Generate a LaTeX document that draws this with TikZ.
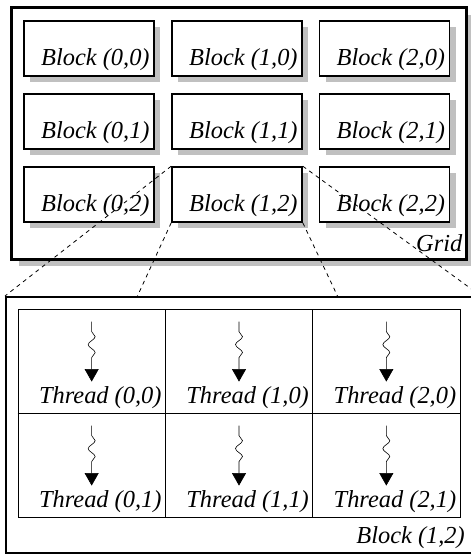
\documentclass[tikz,border=0pt]{standalone}
\usepackage{fontspec}
\setmainfont{Liberation Serif}
\usetikzlibrary{arrows.meta,shadows,decorations.pathmorphing}
\definecolor{shadowgray}{HTML}{C0C0C0}
\begin{document}
\begin{tikzpicture}[x=1bp,y=-1bp,
  lab/.style={font=\fontsize{24.5}{28}\selectfont\itshape, inner sep=0pt, anchor=base east},
  shadowed/.style={drop shadow={shadow xshift=#1, shadow yshift=-#1, fill=shadowgray, opacity=1}},
  gridframe/.style={draw, line width=3bp, fill=white, inner sep=0pt,
    minimum width=454bp, minimum height=251bp, shadowed=7bp},
  blockbox/.style={draw, line width=1.6bp, fill=white, inner sep=0pt,
    minimum width=130bp, minimum height=55bp, shadowed=6bp},
  bigframe/.style={draw, line width=2bp, inner sep=0pt,
    minimum width=474bp, minimum height=256bp},
  cell/.style={draw, line width=0.8bp, inner sep=0pt,
    minimum width=147.33bp, minimum height=104bp},
  zoomline/.style={line width=0.8bp, dash pattern=on 4bp off 4bp},
  thread/.style={line width=0.6bp, decorate,
    decoration={snake, amplitude=3.5bp, segment length=16bp,
      pre length=10bp, post length=18bp},
    -{Triangle[length=12.5bp,width=14bp]}}
]
\useasboundingbox (0,0) rectangle (471,554);
\clip (0,0) rectangle (471,554);

% grid of blocks
\node[gridframe] (grid) at (239,133.5) {};
\node[lab] (gridlab) at ([shift={(-5bp,9bp)}]grid.south east) {Grid};
\foreach \i/\x in {0/89,1/237,2/384.5}{
  \foreach \j/\y in {0/48.5,1/121.5,2/194.5}{
    \node[blockbox] (b\i\j) at (\x,\y) {};
    \node[lab] at ([shift={(-5bp,11.5bp)}]b\i\j.south east) {Block (\i,\j)};
  }
}

% enlarged block with its threads
\node[bigframe] (big) at (243,425) {};
\node[lab] (biglab) at (465,543) {Block (1,2)};
\foreach \i/\x in {0/91.67,1/239,2/386.33}{
  \foreach \j/\y in {0/361,1/465}{
    \node[cell] (c\i\j) at (\x,\y) {};
    \node[lab] at ([shift={(-4bp,10bp)}]c\i\j.south east) {Thread (\i,\j)};
    \coordinate (s\i\j) at ([yshift=-13bp]c\i\j.north);
    \coordinate (e\i\j) at ([yshift=-73bp]c\i\j.north);
    \draw[thread] (s\i\j) -- (e\i\j);
  }
}
\draw[line width=1.8bp] (c00.south west) -- (c20.south east);

% projection of block (1,2)
\coordinate (pl) at (137,297);
\coordinate (pr) at (338,297);
\draw[zoomline] (b12.north west) -- (big.north west);
\draw[zoomline] (b12.south west) -- (pl);
\draw[zoomline] (b12.north east) -- (big.north east);
\draw[zoomline] (b12.south east) -- (pr);
\end{tikzpicture}
\end{document}
